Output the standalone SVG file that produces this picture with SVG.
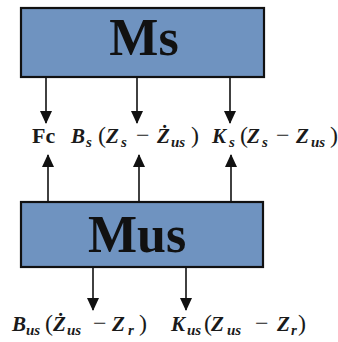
<svg xmlns="http://www.w3.org/2000/svg" width="338" height="342" viewBox="0 0 338 342">
<defs>
<style>
.box{fill:#6f93c0;stroke:#111;stroke-width:2.2}
.title{font-family:"Liberation Serif","Times New Roman",serif;font-weight:bold;font-size:52px;fill:#111;text-anchor:middle}
.conn line{stroke:#111;stroke-width:1.6}
.eq{font-family:"Liberation Serif","Times New Roman",serif;font-weight:bold;font-style:italic;font-size:21px;fill:#1a1a1a}
.up{font-style:normal}
.mn{font-style:normal;font-weight:normal;font-size:24px}
.par{font-style:normal;font-weight:normal;font-size:24px}
.sub{font-size:15px}
</style>
<marker id="ah" viewBox="0 0 13 12" markerWidth="13" markerHeight="12" refX="12" refY="6" orient="auto" markerUnits="userSpaceOnUse">
<path d="M0,0 L13,6 L0,12 Z" fill="#111"/>
</marker>
</defs>
<rect width="338" height="342" fill="#fff"/>
<g id="ms">
<rect class="box" x="21" y="8" width="243" height="69"/>
<text class="title" x="144" y="55">Ms</text>
</g>
<g id="mus">
<rect class="box" x="21" y="202" width="242" height="65"/>
<text class="title" x="137" y="252">Mus</text>
</g>
<g id="connectors" class="conn">
<line x1="46" y1="77" x2="46" y2="123" marker-end="url(#ah)"/>
<line x1="137" y1="77" x2="137" y2="123" marker-end="url(#ah)"/>
<line x1="230" y1="77" x2="230" y2="123" marker-end="url(#ah)"/>
<line x1="48" y1="202" x2="48" y2="155" marker-end="url(#ah)"/>
<line x1="139" y1="202" x2="139" y2="155" marker-end="url(#ah)"/>
<line x1="231" y1="202" x2="231" y2="155" marker-end="url(#ah)"/>
<line x1="93" y1="267" x2="93" y2="310" marker-end="url(#ah)"/>
<line x1="186" y1="267" x2="186" y2="310" marker-end="url(#ah)"/>
</g>
<g id="labels-top">
<text class="eq up" x="32" y="143" style="font-size:22px">Fc</text>
<text class="eq" y="143"><tspan x="71">B</tspan><tspan class="sub" x="86" dy="4">s</tspan><tspan class="par" x="98" dy="-4">(</tspan><tspan x="106">Z</tspan><tspan class="sub" x="121" dy="4">s</tspan><tspan class="mn" x="136" dy="-4">−</tspan><tspan x="157">Ż</tspan><tspan class="sub" x="171" dy="4">us</tspan><tspan class="par" x="191" dy="-4">)</tspan></text>
<text class="eq" y="143"><tspan x="212">K</tspan><tspan class="sub" x="229" dy="4">s</tspan><tspan class="par" x="240" dy="-4">(</tspan><tspan x="247">Z</tspan><tspan class="sub" x="262" dy="4">s</tspan><tspan class="mn" x="276" dy="-4">−</tspan><tspan x="296">Z</tspan><tspan class="sub" x="311" dy="4">us</tspan><tspan class="par" x="330" dy="-4">)</tspan></text>
</g>
<g id="labels-bottom">
<text class="eq" y="331"><tspan x="12">B</tspan><tspan class="sub" x="26" dy="4">us</tspan><tspan class="par" x="45" dy="-4">(</tspan><tspan x="53">Ż</tspan><tspan class="sub" x="67" dy="4">us</tspan><tspan class="mn" x="93" dy="-4">−</tspan><tspan x="112">Z</tspan><tspan class="sub" x="128" dy="4">r</tspan><tspan class="par" x="139" dy="-4">)</tspan></text>
<text class="eq" y="331"><tspan x="171">K</tspan><tspan class="sub" x="187" dy="4">us</tspan><tspan class="par" x="204" dy="-4">(</tspan><tspan x="211">Z</tspan><tspan class="sub" x="227" dy="4">us</tspan><tspan class="mn" x="255" dy="-4">−</tspan><tspan x="277">Z</tspan><tspan class="sub" x="291" dy="4">r</tspan><tspan class="par" x="298" dy="-4">)</tspan></text>
</g>
</svg>
